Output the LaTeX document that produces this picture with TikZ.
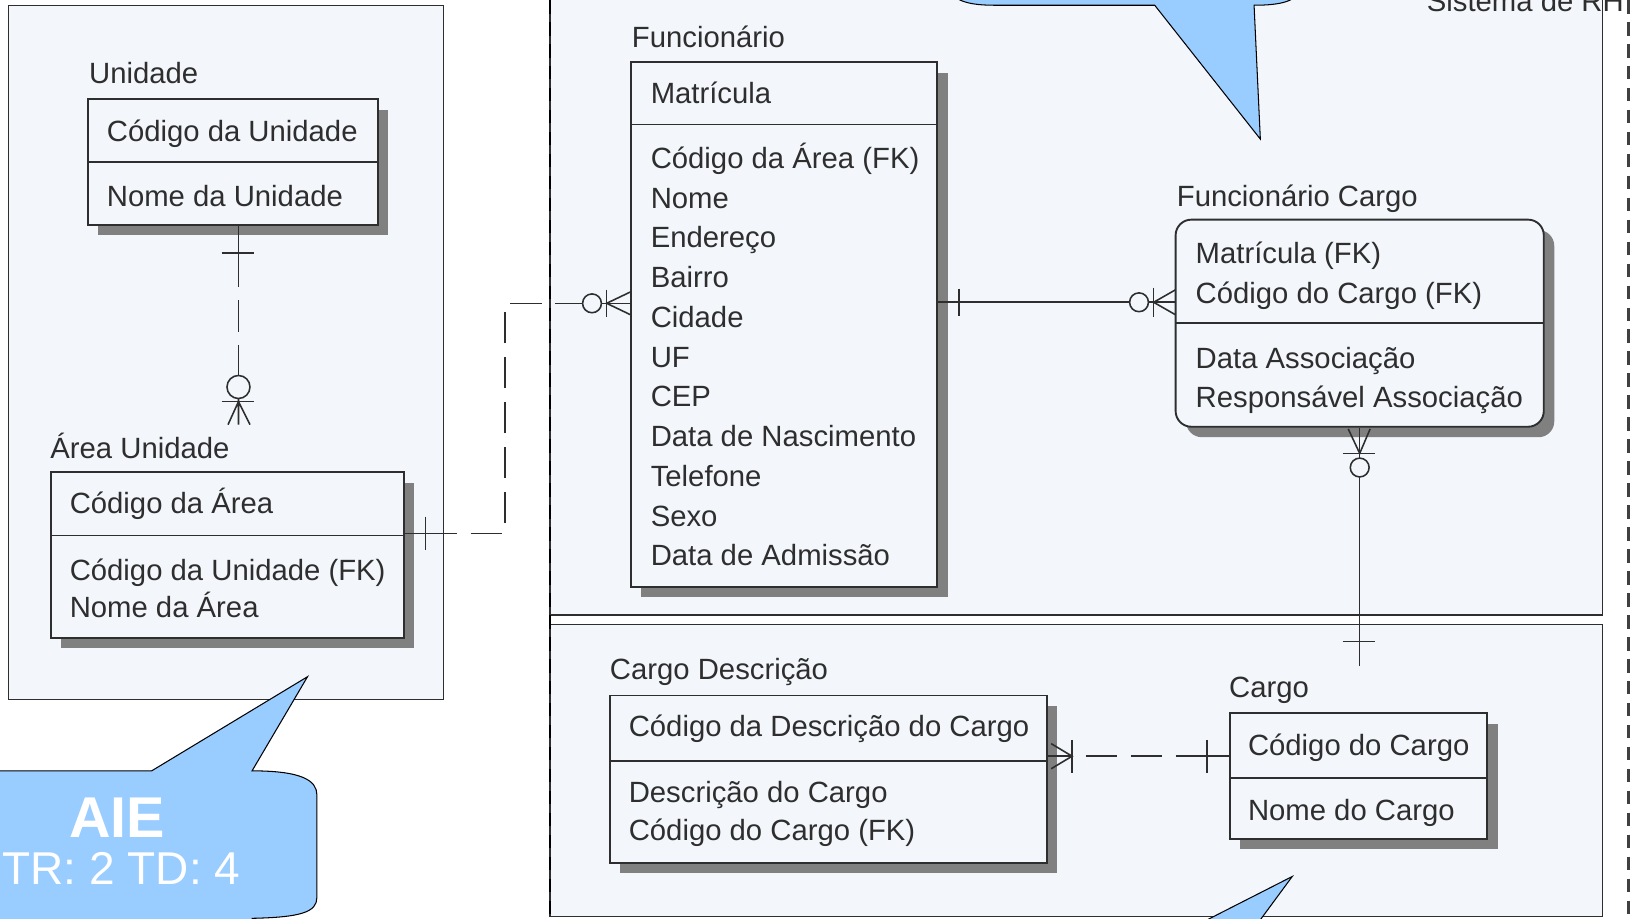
\documentclass[tikz,border=0pt]{standalone}
\usepackage{fontspec}
\setmainfont{Liberation Sans}
\usetikzlibrary{shadows}

\definecolor{panelbg}{HTML}{F3F7FC}
\definecolor{bubblebg}{HTML}{99CCFF}
\definecolor{ink}{HTML}{2E2E2E}

\tikzset{
  panel/.style={draw=ink, line width=1.3pt, fill=panelbg},
  entity/.style={draw=ink, line width=1.8pt, fill=panelbg, inner sep=0pt,
    drop shadow={shadow xshift=10pt, shadow yshift=-10pt, fill=black!50, opacity=1}},
  divider/.style={draw=ink, line width=1.8pt},
  attr/.style={anchor=base west, inner sep=0pt, text=ink, font=\fontsize{28}{34}\selectfont},
  rel/.style={draw=ink, line width=1.5pt},
  nonid/.style={rel, dash pattern=on 30pt off 13pt, dash phase=30pt},
  frame/.style={line width=2.5pt, dash pattern=on 13pt off 8pt},
  bubble/.style={fill=bubblebg, draw=black, line width=1pt},
}

\begin{document}
\begin{tikzpicture}[x=1pt, y=-1pt]

    % Fix the page
    \useasboundingbox (0,0) rectangle (1568,878);
    \clip (0,0) rectangle (1568,878);
    \fill[white] (0,0) rectangle (1568,878);

    % Draw the subject areas
    \draw[panel] (8,5) rectangle (424,669);
    \draw[panel] (526,-10) rectangle (1532,588);
    \draw[panel] (526,597) rectangle (1532,876);
    \draw[frame, draw=black] (526,0) -- (526,878);
    \draw[frame, draw=black!75, line width=2pt] (1557,0) -- (1557,878);
    \node[attr] (sis) at (1364,11) {Sistema de RH};

    % Draw Unidade
    \node[attr] (ut) at (85,80) {Unidade};
    \node[entity, minimum width=277pt, minimum height=120pt] (uni) at (222.5,155) {};
    \draw[divider] (84,155) -- (361,155);
    \node[attr] (u1) at (102,135) {Código da Unidade};
    \node[attr] (u2) at (102,197) {Nome da Unidade};

    % Draw Área Unidade
    \node[attr] (at) at (48,438) {Área Unidade};
    \node[entity, minimum width=337.5pt, minimum height=158pt] (are) at (217.25,530.6) {};
    \draw[divider] (48.5,512) -- (386,512);
    \node[attr] (a1) at (66.5,491) {Código da Área};
    \node[attr] (a2) at (66.5,555) {Código da Unidade (FK)};
    \node[attr] (a3) at (66.5,590) {Nome da Área};

    % Draw Funcionário
    \node[attr] (ft) at (604,45) {Funcionário};
    \node[entity, minimum width=293pt, minimum height=501.5pt] (fun) at (749.5,310.25) {};
    \draw[divider] (603,119) -- (896,119);
    \node[attr] (f0) at (622,99) {Matrícula};
    \node[attr] (f1) at (622,161) {Código da Área (FK)};
    \node[attr] (f2) at (622,199) {Nome};
    \node[attr] (f3) at (622,237) {Endereço};
    \node[attr] (f4) at (622,275) {Bairro};
    \node[attr] (f5) at (622,313) {Cidade};
    \node[attr] (f6) at (622,351) {UF};
    \node[attr] (f7) at (622,389) {CEP};
    \node[attr] (f8) at (622,427) {Data de Nascimento};
    \node[attr] (f9) at (622,465) {Telefone};
    \node[attr] (f10) at (622,503) {Sexo};
    \node[attr] (f11) at (622,541) {Data de Admissão};

    % Draw Funcionário Cargo
    \node[attr] (fct) at (1125,197) {Funcionário Cargo};
    \node[entity, rounded corners=15pt, minimum width=352pt, minimum height=198pt] (fc) at (1300,309) {};
    \draw[divider] (1124,309) -- (1476,309);
    \node[attr] (fc1) at (1143,252) {Matrícula (FK)};
    \node[attr] (fc2) at (1143,290) {Código do Cargo (FK)};
    \node[attr] (fc3) at (1143,352) {Data Associação};
    \node[attr] (fc4) at (1143,390) {Responsável Associação};

    % Draw Cargo
    \node[attr] (ct) at (1175,667) {Cargo};
    \node[entity, minimum width=246pt, minimum height=120pt] (cargo) at (1299,742) {};
    \draw[divider] (1176,744) -- (1422,744);
    \node[attr] (c1) at (1193,722) {Código do Cargo};
    \node[attr] (c2) at (1193,784.5) {Nome do Cargo};

    % Draw Cargo Descrição
    \node[attr] (dt) at (583,650) {Cargo Descrição};
    \node[entity, minimum width=418pt, minimum height=160pt] (cd) at (792,745) {};
    \draw[divider] (583,727.5) -- (1001,727.5);
    \node[attr] (d1) at (601,704.5) {Código da Descrição do Cargo};
    \node[attr] (d2) at (601,767) {Descrição do Cargo};
    \node[attr] (d3) at (601,803.5) {Código do Cargo (FK)};

    % Unidade to Área Unidade
    \coordinate (ua) at (228,274);
    \coordinate (ub) at (228,406);
    \draw[rel] (uni.south -| ua) -- (ua);
    \draw[nonid] (ua) -- (228,359);
    \draw[rel] (212,242) -- (243,242);
    \draw[rel, fill=panelbg] (228,370) circle (11pt);
    \draw[rel] (212,384) -- (243,384);
    \draw[rel] (228,381) -- (ub) (218,406) -- (228,384) -- (239,406);

    % Área Unidade to Funcionário
    \coordinate (aa) at (437,510);
    \coordinate (af) at (556,290);
    \draw[rel] (are.east |- aa) -- (aa);
    \draw[nonid] (aa) -- (483,510) -- (483,290) -- (af);
    \draw[rel] (407,494) -- (407,526);
    \draw[rel] (af) -- (fun.west |- af);
    \draw[rel, fill=panelbg] (566,290) circle (9pt);
    \draw[rel] (580,277) -- (580,303);
    \draw[rel] (603,279) -- (580,290) -- (603,301);

    % Funcionário to Funcionário Cargo
    \coordinate (fa) at (1080,289);
    \draw[rel] (fun.east |- fa) -- (fc.west |- fa);
    \draw[rel] (917,276) -- (917,302);
    \draw[rel, fill=panelbg] (1089,289) circle (9pt);
    \draw[rel] (1103,275) -- (1103,303);
    \draw[rel] (1124,277) -- (1103,289) -- (1124,301);

    % Funcionário Cargo to Cargo
    \coordinate (fg) at (1300,637);
    \draw[rel] (fc.south) -- (fg);
    \draw[rel] (1289,410) -- (1300,433.5) -- (1310,410);
    \draw[rel] (1284,433.5) -- (1315,433.5);
    \draw[rel, fill=panelbg] (1300,447) circle (9pt);
    \draw[rel] (1284,613.5) -- (1315,613.5);

    % Cargo Descrição to Cargo
    \coordinate (ce) at (1025,723);
    \coordinate (cc) at (1154,723);
    \draw[rel] (cd.east |- ce) -- (ce);
    \draw[rel] (1005,711) -- (ce) -- (1005,735);
    \draw[rel] (1025,707.5) -- (1025,739);
    \draw[nonid] (ce) -- (cc);
    \draw[rel] (cc) -- (cargo.west |- cc);
    \draw[rel] (1154,707.5) -- (1154,739);

    % Finally draw the callouts
    \draw[bubble] (905,-40) -- (905,-20) .. controls (905,-2) and (920,5) .. (950,5)
        -- (1104,5) -- (1205,133) -- (1199,5)
        .. controls (1225,5) and (1240,1) .. (1242,-10) -- (1242,-40) -- cycle;
    \draw[bubble] (-20,737) -- (145,737) -- (294,647) -- (241,737)
        .. controls (288,737) and (303,746) .. (303,760) -- (303,858)
        .. controls (303,872) and (288,877) .. (241,878) -- (241,890) -- (-20,890) -- cycle;
    \node[anchor=base, inner sep=0pt, text=white, font=\fontsize{55}{60}\selectfont\bfseries] (aie) at (112,801) {AIE};
    \node[anchor=base, inner sep=0pt, text=white, font=\fontsize{44}{50}\selectfont] (trtd) at (116,846) {TR: 2 TD: 4};
    \draw[bubble] (1129.5,892) -- (1235.5,838) -- (1195.7,892) -- cycle;

\end{tikzpicture}
\end{document}
